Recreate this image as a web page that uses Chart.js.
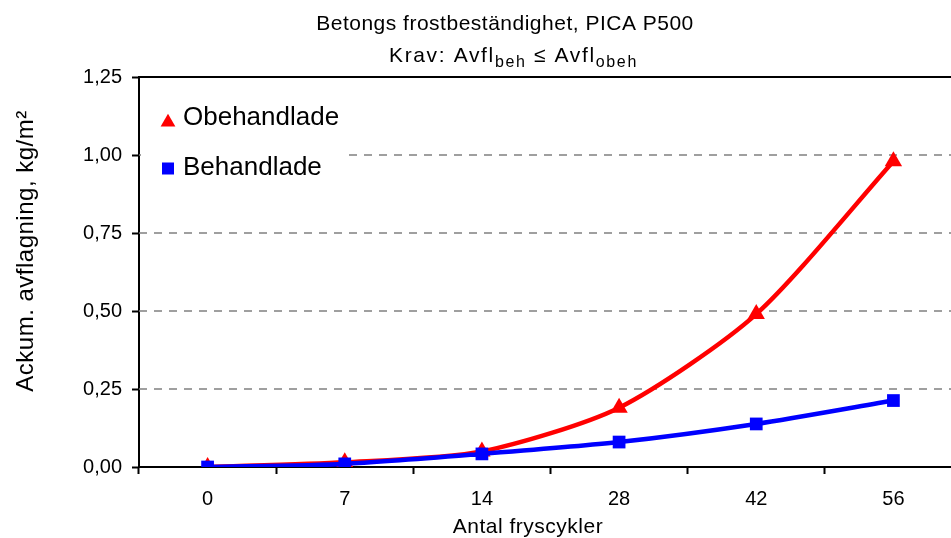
<!DOCTYPE html>
<html>
<head>
<meta charset="utf-8">
<script src="https://cdn.jsdelivr.net/npm/chart.js@4/dist/chart.umd.min.js"></script>
<style>
  html, body { margin: 0; padding: 0; background: #fff; overflow: hidden; }
  #wrap { width: 951px; height: 538px; overflow: hidden; position: relative; }
  canvas { display: block; }
</style>
</head>
<body>
<div id="wrap"><canvas id="c" width="1000" height="538"></canvas></div>
<script>
// ---- data ----
const categories = ['0', '7', '14', '28', '42', '56'];
const obehandlade = [0.00, 0.015, 0.05, 0.19, 0.49, 0.98];
const behandlade = [0.00, 0.01, 0.042, 0.08, 0.138, 0.213];
const yTickValues = [0, 0.25, 0.5, 0.75, 1.0, 1.25];
const seriesNames = ['Obehandlade', 'Behandlade'];
const titleLine1 = 'Betongs frostbeständighet, PICA P500';
const xTitle = 'Antal fryscykler';
const yTitle = 'Ackum. avflagning, kg/m²';

const FONT = '"Liberation Sans", Arial, sans-serif';
const RED = '#FF0000';
const BLUE = '#0000FF';

function fmt(v) { return v.toFixed(2).replace('.', ','); }

function drawTri(ctx, cx, cy, r) {
  const w = r * Math.sqrt(3) / 2, h = 1.5 * r;
  ctx.beginPath();
  ctx.moveTo(cx, cy - h / 2);
  ctx.lineTo(cx + w, cy + h / 2);
  ctx.lineTo(cx - w, cy + h / 2);
  ctx.closePath();
  ctx.fill();
}

const decor = {
  id: 'decor',
  beforeDatasetsDraw(chart) {
    const { ctx, chartArea: a, scales: { y } } = chart;
    ctx.save();
    // dashed gridlines
    ctx.strokeStyle = '#808080';
    ctx.lineWidth = 1.5;
    ctx.setLineDash([8, 7]);
    yTickValues.filter(v => v > y.min && v < y.max).forEach(v => {
      const py = y.getPixelForValue(v);
      ctx.beginPath();
      ctx.moveTo(a.left, py);
      ctx.lineTo(a.right, py);
      ctx.stroke();
    });
    ctx.setLineDash([]);
    // top border of plot area
    ctx.strokeStyle = '#000';
    ctx.lineWidth = 2;
    ctx.beginPath();
    ctx.moveTo(a.left, a.top);
    ctx.lineTo(a.right, a.top);
    ctx.stroke();
    // legend (inside plot area, white box)
    ctx.fillStyle = '#fff';
    ctx.fillRect(a.left + 2, 92, 202, 100);
    ctx.fillStyle = RED;
    drawTri(ctx, 168, 120, 8.5);
    ctx.fillStyle = BLUE;
    ctx.fillRect(162, 162.5, 12, 12);
    ctx.fillStyle = '#000';
    ctx.font = '26px ' + FONT;
    ctx.textBaseline = 'alphabetic';
    ctx.textAlign = 'left';
    ctx.fillText(seriesNames[0], 183, 125);
    ctx.fillText(seriesNames[1], 183, 175);
    ctx.restore();
  },
  afterDraw(chart) {
    const { ctx } = chart;
    ctx.save();
    ctx.fillStyle = '#000';
    ctx.textBaseline = 'alphabetic';
    try { ctx.letterSpacing = '0.5px'; } catch (e) {}
    // title line 1
    ctx.font = '21px ' + FONT;
    ctx.textAlign = 'center';
    ctx.fillText(titleLine1, 505, 30);
    // title line 2 with subscripts
    const parts = [
      { t: 'Krav: Avfl', s: false },
      { t: 'beh', s: true },
      { t: ' ≤ Avfl', s: false },
      { t: 'obeh', s: true }
    ];
    const big = '21px ' + FONT, small = '16px ' + FONT;
    ctx.textAlign = 'left';
    try { ctx.letterSpacing = '0px'; } catch (e) {}
    let total = 0, nChars = 0;
    parts.forEach(p => { ctx.font = p.s ? small : big; total += ctx.measureText(p.t).width; nChars += p.t.length; });
    const targetL = 389, targetR = 638;
    const sp = Math.max(0, (targetR - targetL - total) / nChars);
    try { ctx.letterSpacing = sp.toFixed(2) + 'px'; } catch (e) {}
    let x0 = targetL;
    parts.forEach(p => {
      ctx.font = p.s ? small : big;
      ctx.fillText(p.t, x0, p.s ? 67 : 62);
      x0 += ctx.measureText(p.t).width;
    });
    try { ctx.letterSpacing = '0.5px'; } catch (e) {}
    // x axis title
    ctx.font = '21px ' + FONT;
    ctx.textAlign = 'center';
    ctx.fillText(xTitle, 528, 533);
    // y axis title
    ctx.translate(33, 251);
    ctx.rotate(-Math.PI / 2);
    ctx.font = '24px ' + FONT;
    ctx.fillText(yTitle, 0, 0);
    ctx.restore();
  }
};

new Chart(document.getElementById('c'), {
  type: 'line',
  data: {
    labels: categories,
    datasets: [
      {
        label: seriesNames[0],
        data: obehandlade,
        borderColor: RED,
        backgroundColor: RED,
        borderWidth: 4.5,
        pointStyle: 'triangle',
        pointRadius: 10,
        pointBorderWidth: 0,
        tension: 0.25,
        order: 2
      },
      {
        label: seriesNames[1],
        data: behandlade,
        borderColor: BLUE,
        backgroundColor: BLUE,
        borderWidth: 4.5,
        pointStyle: 'rect',
        pointRadius: 9,
        pointBorderWidth: 0,
        tension: 0.25,
        order: 1
      }
    ]
  },
  options: {
    responsive: false,
    animation: false,
    devicePixelRatio: 1,
    layout: { padding: { left: 0, right: 38, top: 77, bottom: 0 } },
    plugins: {
      legend: { display: false },
      title: { display: false },
      tooltip: { enabled: false }
    },
    scales: {
      x: {
        type: 'category',
        offset: true,
        grid: {
          offset: true,
          drawOnChartArea: false,
          drawTicks: true,
          tickLength: 7,
          tickColor: '#000',
          tickWidth: 2
        },
        border: { display: true, color: '#000', width: 2 },
        ticks: {
          color: '#000',
          font: { family: FONT, size: 20 },
          padding: 13,
          maxRotation: 0,
          autoSkip: false
        },
        afterFit(s) { s.height = 71; }
      },
      y: {
        min: 0,
        max: 1.25,
        afterBuildTicks(s) { s.ticks = yTickValues.map(v => ({ value: v })); },
        grid: {
          drawOnChartArea: false,
          drawTicks: true,
          tickLength: 7,
          tickColor: '#000',
          tickWidth: 2
        },
        border: { display: true, color: '#000', width: 2 },
        ticks: {
          color: '#000',
          font: { family: FONT, size: 20 },
          padding: 10,
          callback: v => fmt(v)
        },
        afterFit(s) { s.width = 139; }
      }
    }
  },
  plugins: [decor]
});
</script>
</body>
</html>
